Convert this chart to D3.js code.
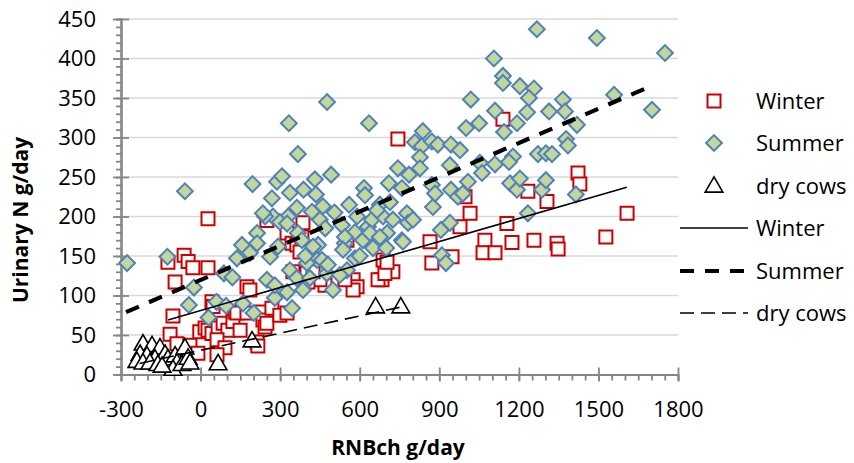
<!DOCTYPE html>
<html lang="en">
<head>
<meta charset="utf-8">
<script src="https://d3js.org/d3.v7.min.js"></script>
<style type="text/css">
body {
  margin: 0;
  background: #fff;
  font-family: "Open Sans", sans-serif;
}
.grid line {
  stroke: #d9d9d9;
  stroke-width: 1.6;
}
.axis path,
.axis line {
  fill: none;
  stroke: #868686;
  stroke-width: 1.8;
}
.axis text {
  font: 22px "Open Sans", sans-serif;
  fill: #000;
}
.title {
  font: bold 21px "Open Sans", sans-serif;
}
.legend text {
  font: 22px "Open Sans", sans-serif;
}
</style>
<title>Urinary N vs RNBch</title>
</head>
<body>
<script type="text/javascript">
// values: [RNBch g/day, urinary N g/day]
var winterPts = [[744,298],[1140,323],[1423,255],[1430,241],[997,225],[1234,232],[1306,219],[1016,204],
  [1155,191],[1608,204],[1528,174],[1257,170],[1344,166],[1348,159],[1174,167],[1072,170],[1065,154],
  [1110,154],[978,187],[948,149],[872,141],[865,168],[688,145],[725,130],[684,120],[669,120],[695,128],
  [575,120],[590,111],[575,107],[544,120],[495,116],[469,113],[450,120],[405,117],[401,128],[424,130],
  [348,130],[386,192],[326,179],[345,166],[363,164],[375,155],[382,174],[552,170],[250,195],[28,197],
  [-123,142],[-62,151],[-47,143],[-29,135],[28,135],[-96,117],[-104,74],[-115,51],[-89,39],[-40,37],
  [-10,27],[-3,54],[17,59],[28,56],[43,92],[47,86],[43,52],[66,59],[85,65],[103,56],[122,67],[149,56],
  [62,44],[92,34],[62,25],[130,79],[137,78],[175,78],[175,111],[186,107],[231,79],[235,69],[243,60],
  [213,41],[216,36],[250,65],[269,84],[299,75],[326,78],[703,142]];

var summerPts = [[-277,141],[-125,149],[-59,232],[196,241],[288,244],[307,251],[333,318],[367,279],
  [477,345],[431,247],[492,253],[635,318],[616,236],[710,242],[744,261],[269,223],[337,230],[388,234],
  [435,228],[461,213],[420,206],[363,211],[330,200],[273,200],[243,200],[299,193],[450,196],[367,179],
  [213,179],[156,164],[213,166],[292,162],[443,164],[533,189],[590,200],[620,227],[582,180],[631,187],
  [646,196],[676,215],[688,200],[714,218],[759,236],[786,253],[778,204],[782,192],[801,196],[838,308],
  [808,294],[834,289],[827,275],[827,261],[872,240],[876,212],[872,295],[895,291],[944,291],[978,284],
  [940,265],[1008,244],[1053,268],[1061,255],[1110,266],[1167,242],[1193,234],[1204,248],[1287,234],
  [1302,246],[884,229],[944,234],[970,225],[989,229],[1415,228],[1234,204],[906,183],[940,192],[910,151],
  [925,141],[759,170],[703,179],[763,168],[544,166],[612,170],[1268,437],[1494,426],[1751,407],[1106,400],
  [1140,378],[1140,369],[1204,365],[1257,362],[1238,350],[1019,348],[1366,348],[1559,354],[1702,335],
  [1110,334],[1231,332],[1314,333],[1374,333],[1001,312],[1050,318],[1144,307],[1193,318],[1419,316],
  [1378,298],[1385,290],[1272,279],[1302,280],[1325,279],[1178,276],[1163,269],[-25,110],[-44,88],
  [30,72],[60,92],[88,128],[120,123],[96,87],[137,147],[160,90],[200,78],[186,154],[235,204],[262,149],
  [250,120],[280,97],[345,84],[326,191],[337,132],[386,107],[382,170],[424,162],[439,145],[476,128],
  [499,107],[544,174],[639,179],[665,208],[676,174],[725,196],[280,113],[326,104],[363,122],[401,141],
  [458,145],[412,122],[480,139],[537,158],[582,147],[552,132],[525,126],[560,215],[505,205],[470,185],
  [600,150],[650,160],[700,160],[395,150]];

var dryPts = [[-217,40],[-183,38],[-153,35],[-228,27],[-202,25],[-240,18],[-217,16],[-172,21],[-134,27],
  [-123,21],[-96,25],[-89,16],[-104,8],[-70,14],[-59,35],[-47,22],[-40,16],[-191,16],[-161,14],[-145,12],
  [66,15],[194,44],[660,87],[755,87]];

// linear trend lines, end points
var winterTrend = [[-123,69],[1607,237]];
var summerTrend = [[-281,79],[1705,366]];
var dryTrend = [[-230,14],[750,85]];

var xTicks = [-300,0,300,600,900,1200,1500,1800];
var yTicks = [0,50,100,150,200,250,300,350,400,450];
var legendNames = ["Winter","Summer","dry cows"];

var W = 854, H = 463;
var x = d3.scaleLinear().domain([-300,1800]).range([121,678]);
var y = d3.scaleLinear().domain([0,450]).range([374.5,19]);
var plain = function(d){ return String(d); };

var svg = d3.select("body").append("svg")
    .attr("width", W)
    .attr("height", H);

// gridlines
svg.append("g")
  .attr("class", "grid")
  .selectAll("line")
  .data(yTicks.slice(1))
  .enter().append("line")
    .attr("x1", x(-300)).attr("x2", x(1800))
    .attr("y1", function(d){ return y(d); })
    .attr("y2", function(d){ return y(d); });

// y axis: minor outside, major crossing
svg.append("g")
  .attr("class", "axis")
  .attr("transform", "translate(" + x(-300) + ",0)")
  .call(d3.axisLeft(y).tickValues(d3.range(0,451,10)).tickSize(5).tickFormat(""));
svg.append("g")
  .attr("class", "axis")
  .attr("transform", "translate(" + x(-300) + ",0)")
  .call(d3.axisRight(y).tickValues(yTicks).tickSize(8).tickSizeOuter(0).tickFormat(""));
svg.append("g")
  .attr("class", "axis")
  .attr("transform", "translate(" + x(-300) + ",0)")
  .call(d3.axisLeft(y).tickValues(yTicks).tickSize(8).tickSizeOuter(0).tickPadding(17).tickFormat(plain));

// x axis
svg.append("g")
  .attr("class", "axis")
  .attr("transform", "translate(0," + y(0) + ")")
  .call(d3.axisBottom(x).tickValues(d3.range(-300,1801,50)).tickSize(6).tickFormat(""));
svg.append("g")
  .attr("class", "axis")
  .attr("transform", "translate(0," + y(0) + ")")
  .call(d3.axisTop(x).tickValues(xTicks).tickSize(7).tickSizeOuter(0).tickFormat(""));
svg.append("g")
  .attr("class", "axis")
  .attr("transform", "translate(0," + y(0) + ")")
  .call(d3.axisBottom(x).tickValues(xTicks).tickSize(7).tickSizeOuter(0).tickPadding(20).tickFormat(plain));

svg.selectAll(".axis .domain").attr("stroke", "#868686");

// axis titles
svg.append("text")
  .attr("class", "title")
  .attr("x", 398).attr("y", 455)
  .attr("text-anchor", "middle")
  .text("RNBch g/day");
svg.append("text")
  .attr("class", "title")
  .attr("transform", "translate(28,220) rotate(-90)")
  .attr("text-anchor", "middle")
  .text("Urinary N g/day");

var square = d3.symbol().type(d3.symbolSquare).size(169);
var diamond = d3.symbol().type(d3.symbolSquare).size(125);
var triangle = d3.symbol().type(d3.symbolTriangle).size(135);

function drawWinter(g, px, py) {
  g.append("path").attr("d", square)
    .attr("transform", "translate(" + px + "," + py + ")")
    .attr("fill", "#fff").attr("stroke", "#cc0000").attr("stroke-width", 2);
}
function drawSummer(g, px, py) {
  g.append("path").attr("d", diamond)
    .attr("transform", "translate(" + px + "," + py + ") rotate(45)")
    .attr("fill", "#c3d69b").attr("stroke", "#4f81bd").attr("stroke-width", 2);
}
function drawDry(g, px, py) {
  g.append("path").attr("d", triangle)
    .attr("transform", "translate(" + px + "," + (py + 2) + ")")
    .attr("fill", "#fff").attr("stroke", "#000").attr("stroke-width", 1.6);
}

var marks = svg.append("g");
winterPts.forEach(function(d){ drawWinter(marks, x(d[0]), y(d[1])); });
summerPts.forEach(function(d){ drawSummer(marks, x(d[0]), y(d[1])); });
dryPts.forEach(function(d){ drawDry(marks, x(d[0]), y(d[1])); });

var line = d3.line().x(function(d){ return x(d[0]); }).y(function(d){ return y(d[1]); });
var trendStyle = [
  {w: 1.6, dash: null},
  {w: 4.2, dash: "14,11"},
  {w: 1.6, dash: "14,7"}
];
[winterTrend, summerTrend, dryTrend].forEach(function(t, i){
  svg.append("path")
    .attr("d", line(t))
    .attr("fill", "none")
    .attr("stroke", "#000")
    .attr("stroke-width", trendStyle[i].w)
    .attr("stroke-dasharray", trendStyle[i].dash);
});

// legend
var legend = svg.append("g").attr("class", "legend");
var rowY = [101, 143, 186, 228, 271, 313];
drawWinter(legend, 714, rowY[0]);
drawSummer(legend, 714, rowY[1]);
drawDry(legend, 714, rowY[2] - 1);
trendStyle.forEach(function(s, i){
  legend.append("line")
    .attr("x1", 680).attr("x2", 748)
    .attr("y1", rowY[3 + i]).attr("y2", rowY[3 + i])
    .attr("stroke", "#000")
    .attr("stroke-width", s.w)
    .attr("stroke-dasharray", s.dash);
});
rowY.forEach(function(ry, i){
  legend.append("text")
    .attr("x", 756).attr("y", ry)
    .attr("dy", "0.36em")
    .text(legendNames[i % 3]);
});
</script>
</body>
</html>
